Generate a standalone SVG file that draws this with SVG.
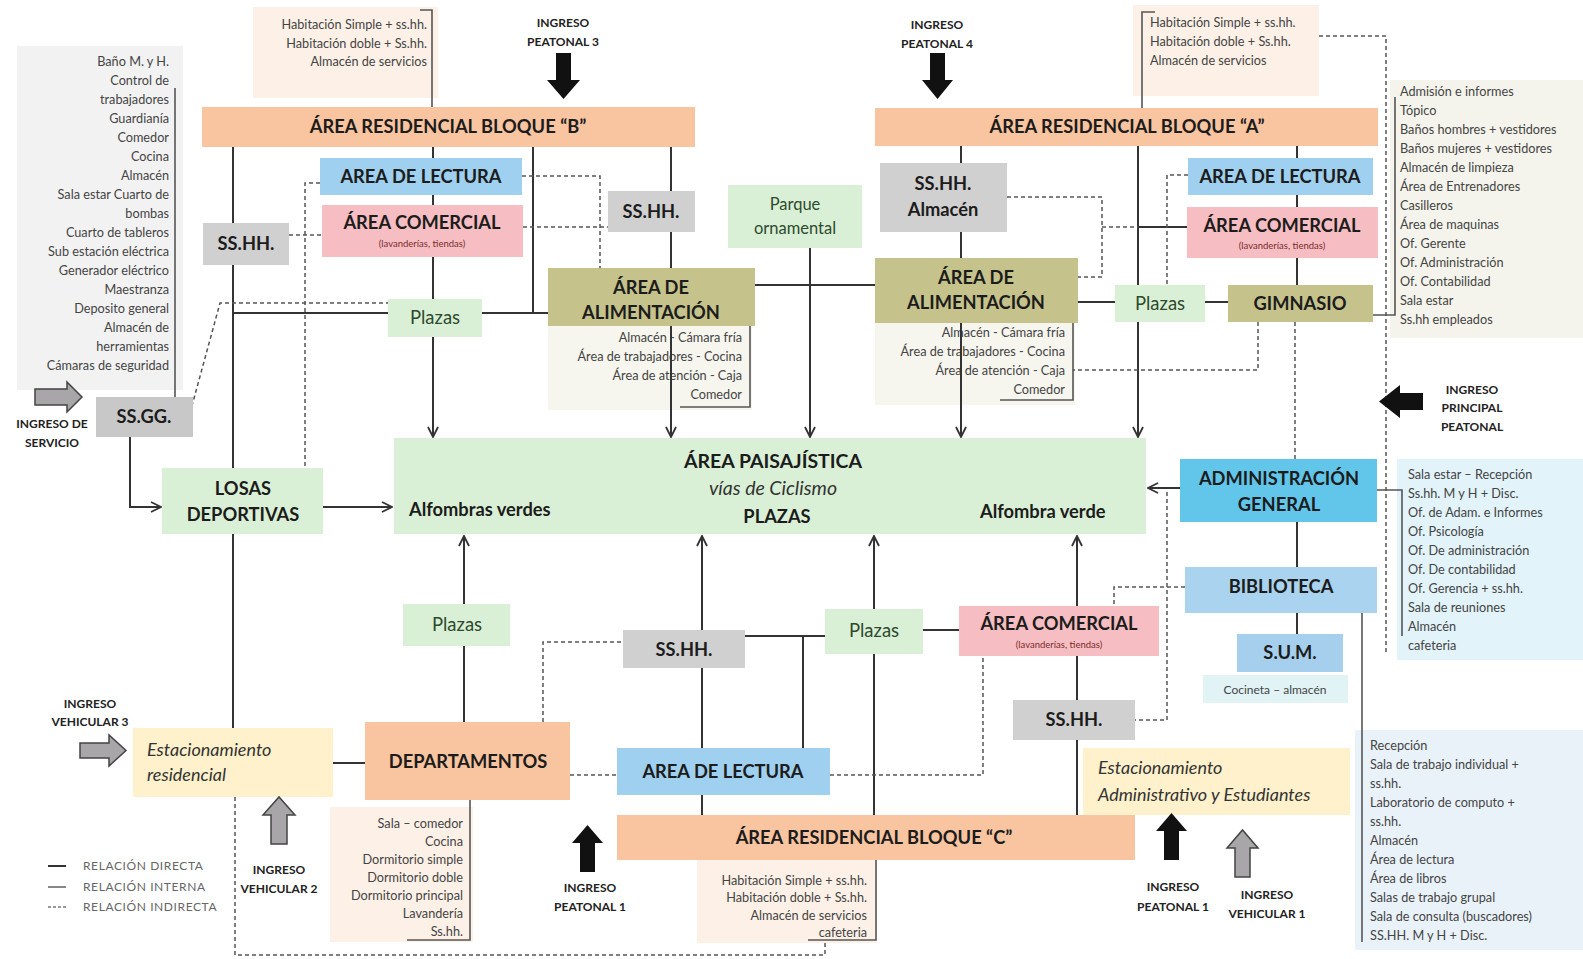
<svg xmlns="http://www.w3.org/2000/svg" width="1583" height="959" viewBox="0 0 1583 959">
<defs>
<marker id="arr" viewBox="0 0 12 12" refX="11" refY="6" markerWidth="12" markerHeight="12" markerUnits="userSpaceOnUse" orient="auto">
<path d="M1,1 L11,6 L1,11" fill="none" stroke="#333" stroke-width="1.8"/>
</marker>
<style>
text{font-family:Lato,"Open Sans","Liberation Sans",sans-serif}
.h{font-weight:bold;font-size:18.3px;fill:#1c1c1c;text-anchor:middle}
.pz{font-size:18.5px;fill:#2e4a2e;text-anchor:middle}
.sub{font-size:9.5px;fill:#7a2b2b;text-anchor:middle}
.li{font-size:12.7px;fill:#444}
.lr{font-size:12.7px;fill:#444;text-anchor:end}
.ing{font-weight:bold;font-size:12px;fill:#222;text-anchor:middle}
.it{font-style:italic;font-size:18px;fill:#333}
.lg{font-size:12px;fill:#666;letter-spacing:0.6px}
.ln{stroke:#333;stroke-width:2;fill:none}
.br{stroke:#555;stroke-width:1.6;fill:none}
.dl{stroke:#555;stroke-width:1.5;stroke-dasharray:4 3;fill:none}
.salmon{fill:#f9c4a0}
.peach{fill:#fdf1e7}
.green{fill:#daf0d6}
.olive{fill:#c5c28b}
.gray{fill:#d1d0d0}
.blue{fill:#9fd0ef}
.pink{fill:#f6bec2}
.yellow{fill:#fef1cb}
.pale{fill:#f6f5ee}
.blk{fill:#111}
.garr{fill:#a8a6a8;stroke:#444;stroke-width:1.5}
</style>
</defs>
<rect width="1583" height="959" fill="#fff"/>

<!-- list panels (background) -->
<g id="ssgg-list">
<rect x="17" y="46" width="166" height="344" fill="#f2f2f2"/>
<text class="lr" x="169" y="66">Baño M. y H.</text>
<text class="lr" x="169" y="85">Control de</text>
<text class="lr" x="169" y="104">trabajadores</text>
<text class="lr" x="169" y="123">Guardianía</text>
<text class="lr" x="169" y="142">Comedor</text>
<text class="lr" x="169" y="161">Cocina</text>
<text class="lr" x="169" y="180">Almacén</text>
<text class="lr" x="169" y="199">Sala estar Cuarto de</text>
<text class="lr" x="169" y="218">bombas</text>
<text class="lr" x="169" y="237">Cuarto de tableros</text>
<text class="lr" x="169" y="256">Sub estación eléctrica</text>
<text class="lr" x="169" y="275">Generador eléctrico</text>
<text class="lr" x="169" y="294">Maestranza</text>
<text class="lr" x="169" y="313">Deposito general</text>
<text class="lr" x="169" y="332">Almacén de</text>
<text class="lr" x="169" y="351">herramientas</text>
<text class="lr" x="169" y="370">Cámaras de seguridad</text>
</g>
<g id="bloque-b-list">
<rect class="peach" x="253" y="7" width="185" height="91"/>
<text class="lr" x="427" y="29">Habitación Simple + ss.hh.</text>
<text class="lr" x="427" y="48">Habitación doble + Ss.hh.</text>
<text class="lr" x="427" y="66">Almacén de servicios</text>
</g>
<g id="bloque-a-list">
<rect class="peach" x="1133" y="5" width="186" height="91"/>
<text class="li" x="1150" y="27">Habitación Simple + ss.hh.</text>
<text class="li" x="1150" y="46">Habitación doble + Ss.hh.</text>
<text class="li" x="1150" y="65">Almacén de servicios</text>
</g>
<g id="gimnasio-list">
<rect x="1390" y="80" width="193" height="258" fill="#f5f4ec"/>
<text class="li" x="1400" y="96">Admisión e informes</text>
<text class="li" x="1400" y="115">Tópico</text>
<text class="li" x="1400" y="134">Baños hombres + vestidores</text>
<text class="li" x="1400" y="153">Baños mujeres + vestidores</text>
<text class="li" x="1400" y="172">Almacén de limpieza</text>
<text class="li" x="1400" y="191">Área de Entrenadores</text>
<text class="li" x="1400" y="210">Casilleros</text>
<text class="li" x="1400" y="229">Área de maquinas</text>
<text class="li" x="1400" y="248">Of. Gerente</text>
<text class="li" x="1400" y="267">Of. Administración</text>
<text class="li" x="1400" y="286">Of. Contabilidad</text>
<text class="li" x="1400" y="305">Sala estar</text>
<text class="li" x="1400" y="324">Ss.hh empleados</text>
</g>
<g id="alim-b-list">
<rect class="pale" x="548" y="326" width="204" height="84"/>
<text class="lr" x="742" y="342">Almacén - Cámara fría</text>
<text class="lr" x="742" y="361">Área de trabajadores - Cocina</text>
<text class="lr" x="742" y="380">Área de atención - Caja</text>
<text class="lr" x="742" y="399">Comedor</text>
</g>
<g id="alim-a-list">
<rect class="pale" x="875" y="323" width="200" height="82"/>
<text class="lr" x="1065" y="337">Almacén - Cámara fría</text>
<text class="lr" x="1065" y="356">Área de trabajadores - Cocina</text>
<text class="lr" x="1065" y="375">Área de atención - Caja</text>
<text class="lr" x="1065" y="394">Comedor</text>
</g>
<g id="adm-list">
<rect x="1397" y="459" width="186" height="201" fill="#e2f3fa"/>
<text class="li" x="1408" y="479">Sala estar – Recepción</text>
<text class="li" x="1408" y="498">Ss.hh. M y H + Disc.</text>
<text class="li" x="1408" y="517">Of. de Adam. e Informes</text>
<text class="li" x="1408" y="536">Of. Psicología</text>
<text class="li" x="1408" y="555">Of. De administración</text>
<text class="li" x="1408" y="574">Of. De contabilidad</text>
<text class="li" x="1408" y="593">Of. Gerencia + ss.hh.</text>
<text class="li" x="1408" y="612">Sala de reuniones</text>
<text class="li" x="1408" y="631">Almacén</text>
<text class="li" x="1408" y="650">cafeteria</text>
</g>
<g id="biblioteca-list">
<rect x="1355" y="730" width="228" height="220" fill="#eaf2f9"/>
<text class="li" x="1370" y="750">Recepción</text>
<text class="li" x="1370" y="769">Sala de trabajo individual +</text>
<text class="li" x="1370" y="788">ss.hh.</text>
<text class="li" x="1370" y="807">Laboratorio de computo +</text>
<text class="li" x="1370" y="826">ss.hh.</text>
<text class="li" x="1370" y="845">Almacén</text>
<text class="li" x="1370" y="864">Área de lectura</text>
<text class="li" x="1370" y="883">Área de libros</text>
<text class="li" x="1370" y="902">Salas de trabajo grupal</text>
<text class="li" x="1370" y="921">Sala de consulta (buscadores)</text>
<text class="li" x="1370" y="940">SS.HH. M y H + Disc.</text>
</g>
<g id="departamentos-list">
<rect class="peach" x="330" y="807" width="143" height="135"/>
<text class="lr" x="463" y="828">Sala – comedor</text>
<text class="lr" x="463" y="846">Cocina</text>
<text class="lr" x="463" y="864">Dormitorio simple</text>
<text class="lr" x="463" y="882">Dormitorio doble</text>
<text class="lr" x="463" y="900">Dormitorio principal</text>
<text class="lr" x="463" y="918">Lavandería</text>
<text class="lr" x="463" y="936">Ss.hh.</text>
</g>
<g id="bloque-c-list">
<rect class="peach" x="697" y="860" width="180" height="83"/>
<text class="lr" x="867" y="885">Habitación Simple + ss.hh.</text>
<text class="lr" x="867" y="902">Habitación doble + Ss.hh.</text>
<text class="lr" x="867" y="920">Almacén de servicios</text>
<text class="lr" x="867" y="937">cafeteria</text>
</g>

<!-- connectors -->
<g id="connectors">
<!-- direct relations -->
<path class="ln" d="M233,147 V728"/>
<path class="ln" d="M233,313 H388 M482,313 H548 M533,147 V313"/>
<path class="ln" d="M433,147 V437" marker-end="url(#arr)"/>
<path class="ln" d="M671,147 V437" marker-end="url(#arr)"/>
<path class="ln" d="M755,285 H875"/>
<path class="ln" d="M810,248 V437" marker-end="url(#arr)"/>
<path class="ln" d="M961,146 V437" marker-end="url(#arr)"/>
<path class="ln" d="M1138,146 V437" marker-end="url(#arr)"/>
<path class="ln" d="M1138,227 H1187 M1078,302 H1115 M1205,302 H1228 M1297,146 V285"/>
<path class="ln" d="M1180,488 H1148" marker-end="url(#arr)"/>
<path class="ln" d="M1297,522 V634"/>
<path class="ln" d="M130,437 V507 H161" marker-end="url(#arr)"/>
<path class="ln" d="M323,507 H392" marker-end="url(#arr)"/>
<path class="ln" d="M464,604 V536" marker-end="url(#arr)"/>
<path class="ln" d="M464,646 V722 M333,763 H365"/>
<path class="ln" d="M702,748 V536" marker-end="url(#arr)"/>
<path class="ln" d="M702,795 V815 M745,636 H825 M803,636 V748"/>
<path class="ln" d="M874,609 V536" marker-end="url(#arr)"/>
<path class="ln" d="M874,654 V815 M923,630 H959"/>
<path class="ln" d="M1077,606 V536" marker-end="url(#arr)"/>
<path class="ln" d="M1077,656 V815"/>
<!-- internal relations (brackets) -->
<path class="br" d="M175,88 V397"/>
<path class="br" d="M420,10 H432 V107"/>
<path class="br" d="M1155,12 H1142 V108"/>
<path class="br" d="M750,326 V407 H680"/>
<path class="br" d="M1073,323 V400 H1000"/>
<path class="br" d="M1373,315 H1395 V97"/>
<path class="br" d="M1377,490 H1402 V636"/>
<path class="br" d="M1362,613 V942"/>
<path class="br" d="M470,800 V940 H407"/>
<path class="br" d="M876,860 V940 H808"/>
<!-- indirect relations -->
<path class="dl" d="M289,235 H322"/>
<path class="dl" d="M320,183 H305 V468"/>
<path class="dl" d="M522,176 H600 V268"/>
<path class="dl" d="M523,227 H608"/>
<path class="dl" d="M190,413 L220,303 H388"/>
<path class="dl" d="M1007,197 H1102 V277 H1078 M1102,227 H1138"/>
<path class="dl" d="M1188,175 H1167 V285"/>
<path class="dl" d="M1319,36 H1386 V653"/>
<path class="dl" d="M1295,322 V459"/>
<path class="dl" d="M1258,322 V370 H1073"/>
<path class="dl" d="M1167,492 V720 H1135"/>
<path class="dl" d="M1185,587 H1114 V606"/>
<path class="dl" d="M830,775 H983 V656"/>
<path class="dl" d="M570,775 H617"/>
<path class="dl" d="M543,722 V642 H623"/>
<path class="dl" d="M235,797 V955 H825 V940"/>
</g>

<!-- nodes -->
<g id="bloque-b"><rect class="salmon" x="202" y="107" width="493" height="40"/><text class="h" x="448" y="133">ÁREA RESIDENCIAL BLOQUE “B”</text></g>
<g id="bloque-a"><rect class="salmon" x="875" y="108" width="503" height="38"/><text class="h" x="1127" y="133">ÁREA RESIDENCIAL BLOQUE “A”</text></g>
<g id="lectura-b"><rect class="blue" x="320" y="158" width="202" height="37"/><text class="h" x="421" y="183">AREA DE LECTURA</text></g>
<g id="comercial-b"><rect class="pink" x="322" y="205" width="201" height="52"/><text class="h" x="422" y="229">ÁREA COMERCIAL</text><text class="sub" x="422" y="247">(lavanderías, tiendas)</text></g>
<g id="sshh-b1"><rect class="gray" x="203" y="223" width="86" height="42"/><text class="h" x="246" y="250">SS.HH.</text></g>
<g id="sshh-b2"><rect class="gray" x="608" y="191" width="87" height="41"/><text class="h" x="651" y="218">SS.HH.</text></g>
<g id="plazas-b"><rect class="green" x="388" y="299" width="94" height="38"/><text class="pz" x="435" y="324">Plazas</text></g>
<g id="alimentacion-b"><rect class="olive" x="548" y="268" width="207" height="58"/><text class="h" x="651" y="294">ÁREA DE</text><text class="h" x="651" y="319">ALIMENTACIÓN</text></g>
<g id="parque"><rect class="green" x="728" y="185" width="134" height="63"/><text class="pz" x="795" y="210" style="font-size:16.5px">Parque</text><text class="pz" x="795" y="234" style="font-size:16.5px">ornamental</text></g>
<g id="sshh-almacen"><rect class="gray" x="880" y="163" width="127" height="69"/><text class="h" x="943" y="190">SS.HH.</text><text class="h" x="943" y="216">Almacén</text></g>
<g id="alimentacion-a"><rect class="olive" x="875" y="258" width="203" height="65"/><text class="h" x="976" y="284">ÁREA DE</text><text class="h" x="976" y="309">ALIMENTACIÓN</text></g>
<g id="lectura-a"><rect class="blue" x="1188" y="158" width="185" height="37"/><text class="h" x="1280" y="183">AREA DE LECTURA</text></g>
<g id="comercial-a"><rect class="pink" x="1187" y="207" width="191" height="51"/><text class="h" x="1282" y="232">ÁREA COMERCIAL</text><text class="sub" x="1282" y="249">(lavanderías, tiendas)</text></g>
<g id="plazas-a"><rect class="green" x="1115" y="285" width="90" height="37"/><text class="pz" x="1160" y="310">Plazas</text></g>
<g id="gimnasio"><rect class="olive" x="1228" y="285" width="145" height="37"/><text class="h" x="1300" y="310">GIMNASIO</text></g>
<g id="ssgg"><rect x="96" y="397" width="97" height="40" fill="#c9c8c8"/><text class="h" x="144" y="423">SS.GG.</text></g>
<g id="losas"><rect class="green" x="162" y="468" width="161" height="66"/><text class="h" x="243" y="495">LOSAS</text><text class="h" x="243" y="521">DEPORTIVAS</text></g>
<g id="paisajistica"><rect class="green" x="394" y="438" width="752" height="96"/>
<text class="h" x="773" y="468" style="font-size:19.5px">ÁREA PAISAJÍSTICA</text>
<text class="it" x="773" y="495" style="font-size:19.5px;text-anchor:middle">vías de Ciclismo</text>
<text class="h" x="777" y="523">PLAZAS</text>
<text class="h" x="409" y="516" style="text-anchor:start">Alfombras verdes</text>
<text class="h" x="980" y="518" style="text-anchor:start">Alfombra verde</text></g>
<g id="administracion"><rect x="1180" y="459" width="197" height="63" fill="#62c5ea"/><text class="h" x="1279" y="485">ADMINISTRACIÓN</text><text class="h" x="1279" y="511">GENERAL</text></g>
<g id="biblioteca"><rect x="1185" y="567" width="192" height="46" fill="#a9d3ef"/><text class="h" x="1281" y="593">BIBLIOTECA</text></g>
<g id="sum"><rect x="1237" y="634" width="106" height="38" fill="#a6cfee"/><text class="h" x="1290" y="659">S.U.M.</text></g>
<g id="cocineta"><rect x="1203" y="675" width="145" height="28" fill="#e1f3f5"/><text class="li" x="1275" y="694" style="text-anchor:middle;font-size:12px">Cocineta – almacén</text></g>
<g id="plazas-bl"><rect class="green" x="403" y="604" width="107" height="42"/><text class="pz" x="457" y="631">Plazas</text></g>
<g id="departamentos"><rect class="salmon" x="365" y="722" width="205" height="78"/><text class="h" x="468" y="768">DEPARTAMENTOS</text></g>
<g id="est-residencial"><rect class="yellow" x="133" y="728" width="200" height="69"/><text class="it" x="147" y="756">Estacionamiento</text><text class="it" x="147" y="781">residencial</text></g>
<g id="sshh-c1"><rect class="gray" x="623" y="630" width="122" height="38"/><text class="h" x="684" y="656">SS.HH.</text></g>
<g id="plazas-c"><rect class="green" x="825" y="609" width="98" height="45"/><text class="pz" x="874" y="637">Plazas</text></g>
<g id="comercial-c"><rect class="pink" x="959" y="606" width="200" height="50"/><text class="h" x="1059" y="630">ÁREA COMERCIAL</text><text class="sub" x="1059" y="648">(lavanderías, tiendas)</text></g>
<g id="sshh-c2"><rect class="gray" x="1013" y="700" width="122" height="40"/><text class="h" x="1074" y="726">SS.HH.</text></g>
<g id="lectura-c"><rect class="blue" x="617" y="748" width="213" height="47"/><text class="h" x="723" y="778">AREA DE LECTURA</text></g>
<g id="bloque-c"><rect class="salmon" x="617" y="815" width="518" height="45"/><text class="h" x="874" y="844">ÁREA RESIDENCIAL BLOQUE “C”</text></g>
<g id="est-administrativo"><rect class="yellow" x="1083" y="748" width="267" height="67"/><text class="it" x="1098" y="774">Estacionamiento</text><text class="it" x="1098" y="801">Administrativo y Estudiantes</text></g>

<!-- entrances -->
<g id="ingreso-servicio"><polygon class="garr" points="35,389 67,389 67,382 82,397 67,412 67,405 35,405"/><text class="ing" x="52" y="428">INGRESO DE</text><text class="ing" x="52" y="447">SERVICIO</text></g>
<g id="ingreso-peatonal-3"><polygon class="blk" points="556,53 571,53 571,80 580,80 563.5,99 547,80 556,80"/><text class="ing" x="563" y="27">INGRESO</text><text class="ing" x="563" y="46">PEATONAL 3</text></g>
<g id="ingreso-peatonal-4"><polygon class="blk" points="930,53 945,53 945,80 953,80 937.5,99 922,80 930,80"/><text class="ing" x="937" y="29">INGRESO</text><text class="ing" x="937" y="48">PEATONAL 4</text></g>
<g id="ingreso-principal"><polygon class="blk" points="1423,393 1400,393 1400,385 1379,401.5 1400,418 1400,410 1423,410"/><text class="ing" x="1472" y="394">INGRESO</text><text class="ing" x="1472" y="412">PRINCIPAL</text><text class="ing" x="1472" y="431">PEATONAL</text></g>
<g id="ingreso-vehicular-3"><polygon class="garr" points="80,743 109,743 109,735 126,750.5 109,766 109,758 80,758"/><text class="ing" x="90" y="708">INGRESO</text><text class="ing" x="90" y="726">VEHICULAR 3</text></g>
<g id="ingreso-vehicular-2"><polygon class="garr" points="271,844 271,815 263,815 279,797 295,815 287,815 287,844"/><text class="ing" x="279" y="874">INGRESO</text><text class="ing" x="279" y="893">VEHICULAR 2</text></g>
<g id="ingreso-peatonal-1a"><polygon class="blk" points="580,872 580,843 572,843 587.5,825 603,843 595,843 595,872"/><text class="ing" x="590" y="892">INGRESO</text><text class="ing" x="590" y="911">PEATONAL 1</text></g>
<g id="ingreso-peatonal-1b"><polygon class="blk" points="1164,860 1164,831 1156,831 1171.5,813 1187,831 1179,831 1179,860"/><text class="ing" x="1173" y="891">INGRESO</text><text class="ing" x="1173" y="911">PEATONAL 1</text></g>
<g id="ingreso-vehicular-1"><polygon class="garr" points="1235,877 1235,848 1227,848 1242.5,830 1258,848 1250,848 1250,877"/><text class="ing" x="1267" y="899">INGRESO</text><text class="ing" x="1267" y="918">VEHICULAR 1</text></g>

<!-- legend -->
<g id="legend">
<line x1="48" y1="866" x2="66" y2="866" stroke="#333" stroke-width="2"/>
<line x1="48" y1="887" x2="66" y2="887" stroke="#888" stroke-width="2"/>
<line x1="48" y1="907" x2="66" y2="907" stroke="#777" stroke-width="1.5" stroke-dasharray="3 2"/>
<text class="lg" x="83" y="870">RELACIÓN DIRECTA</text>
<text class="lg" x="83" y="891">RELACIÓN INTERNA</text>
<text class="lg" x="83" y="911">RELACIÓN INDIRECTA</text>
</g>
</svg>
